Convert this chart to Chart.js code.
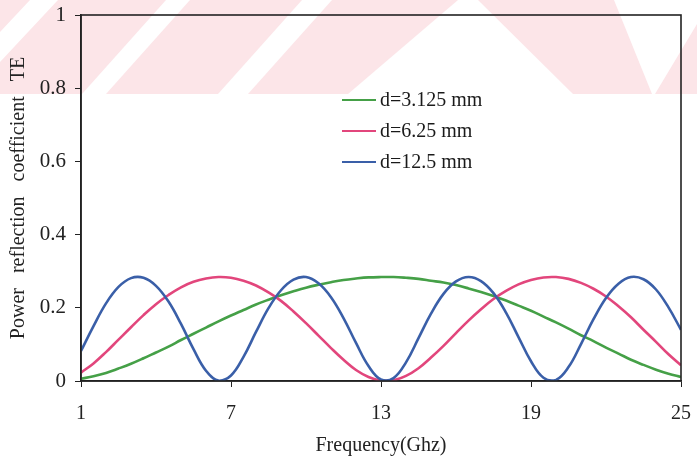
<!DOCTYPE html>
<html>
<head>
<meta charset="utf-8">
<script src="https://cdn.jsdelivr.net/npm/chart.js@4.4.1/dist/chart.umd.min.js"></script>
<style>
  html, body { margin: 0; padding: 0; background: #fff; }
  #wrap { width: 697px; height: 464px; }
</style>
</head>
<body>
<div id="wrap"><canvas id="c" width="697" height="464"></canvas></div>
<script>
// frequency samples (GHz), every 0.5 GHz
const freqs = [1, 1.5, 2, 2.5, 3, 3.5, 4, 4.5, 5, 5.5, 6, 6.5, 7, 7.5, 8, 8.5, 9, 9.5, 10, 10.5,
  11, 11.5, 12, 12.5, 13, 13.5, 14, 14.5, 15, 15.5, 16, 16.5, 17, 17.5, 18, 18.5, 19, 19.5, 20, 20.5,
  21, 21.5, 22, 22.5, 23, 23.5, 24, 24.5, 25];

const seriesNames = ['d=3.125 mm', 'd=6.25 mm', 'd=12.5 mm'];

const rGreen = [0.006, 0.013, 0.022, 0.034, 0.047, 0.062, 0.078, 0.094, 0.112, 0.129, 0.146, 0.163, 0.179, 0.194,
  0.209, 0.222, 0.234, 0.245, 0.255, 0.263, 0.270, 0.276, 0.280, 0.283, 0.284, 0.284, 0.282, 0.279, 0.274, 0.269,
  0.262, 0.253, 0.243, 0.232, 0.220, 0.206, 0.192, 0.176, 0.160, 0.143, 0.125, 0.109, 0.091, 0.075, 0.058, 0.044,
  0.031, 0.020, 0.011];

const rPink = [0.023, 0.048, 0.079, 0.113, 0.147, 0.180, 0.210, 0.235, 0.256, 0.271, 0.280, 0.284, 0.282, 0.274,
  0.261, 0.242, 0.219, 0.190, 0.158, 0.124, 0.090, 0.058, 0.030, 0.011, 0.001, 0.002, 0.014, 0.035, 0.064, 0.096,
  0.131, 0.165, 0.196, 0.224, 0.246, 0.264, 0.276, 0.283, 0.284, 0.279, 0.268, 0.252, 0.231, 0.204, 0.174, 0.140,
  0.107, 0.073, 0.043];

const rBlue = [0.082, 0.150, 0.212, 0.257, 0.281, 0.282, 0.260, 0.217, 0.156, 0.087, 0.028, 0.001, 0.015, 0.066,
  0.134, 0.199, 0.248, 0.277, 0.284, 0.267, 0.229, 0.172, 0.104, 0.041, 0.004, 0.008, 0.051, 0.117, 0.184, 0.238,
  0.272, 0.284, 0.273, 0.240, 0.187, 0.120, 0.054, 0.009, 0.003, 0.038, 0.101, 0.169, 0.227, 0.266, 0.284, 0.278,
  0.250, 0.201, 0.140];

const xTicks = [1, 7, 13, 19, 25];
const yTicks = [0, 0.2, 0.4, 0.6, 0.8, 1];
const yTickLabels = ['0', '0.2', '0.4', '0.6', '0.8', '1'];

const colors = ['#45a047', '#e2467c', '#3a5fa8'];
const serif = "'Liberation Serif', 'Times New Roman', serif";

function pts(ys) {
  return ys.map((y, i) => ({ x: freqs[i], y: y }));
}

function noScalePad(s) {
  s.paddingTop = 0; s.paddingBottom = 0; s.paddingLeft = 0; s.paddingRight = 0;
}

// faint watermark band across the top of the scan
const watermark = {
  id: 'watermark',
  beforeDraw(chart) {
    const ctx = chart.ctx;
    ctx.save();
    ctx.fillStyle = '#fce5e8';
    ctx.fillRect(0, 0, 697, 94);
    ctx.fillStyle = '#fff';
    const polys = [
      [[30, 0], [58, 0], [-30, 94], [-58, 94]],
      [[166, 0], [190, 0], [106, 94], [82, 94]],
      [[302, 0], [332, 0], [248, 94], [218, 94]],
      [[458, 0], [478, 0], [573, 94], [348, 94]],
      [[614, 0], [697, 0], [697, 24], [655, 94], [652, 94]]
    ];
    polys.forEach((p) => {
      ctx.beginPath();
      ctx.moveTo(p[0][0], p[0][1]);
      for (let i = 1; i < p.length; i++) ctx.lineTo(p[i][0], p[i][1]);
      ctx.closePath();
      ctx.fill();
    });
    ctx.restore();
  }
};

// top/right frame and the in-plot legend
const frame = {
  id: 'frame',
  afterDatasetsDraw(chart) {
    const a = chart.chartArea;
    const ctx = chart.ctx;
    ctx.save();
    ctx.strokeStyle = '#222';
    ctx.lineWidth = 1.6;
    ctx.strokeRect(a.left, a.top, a.right - a.left, a.bottom - a.top);

    ctx.font = '20px ' + serif;
    ctx.textBaseline = 'middle';
    ctx.fillStyle = '#1a1a1a';
    chart.data.datasets.forEach((ds, i) => {
      const y = 100 + i * 31;
      ctx.strokeStyle = ds.borderColor;
      ctx.lineWidth = 2;
      ctx.beginPath();
      ctx.moveTo(342, y);
      ctx.lineTo(376, y);
      ctx.stroke();
      ctx.fillText(ds.label, 380, y + 1);
    });
    ctx.restore();
  }
};

new Chart(document.getElementById('c'), {
  type: 'line',
  data: {
    datasets: [
      { label: seriesNames[0], data: pts(rGreen), borderColor: colors[0], order: 3 },
      { label: seriesNames[1], data: pts(rPink), borderColor: colors[1], order: 2 },
      { label: seriesNames[2], data: pts(rBlue), borderColor: colors[2], order: 1 }
    ]
  },
  options: {
    responsive: false,
    animation: false,
    events: [],
    layout: { padding: { left: 0, top: 15, right: 16, bottom: 0 } },
    elements: {
      point: { radius: 0 },
      line: { borderWidth: 2.6, tension: 0.4, fill: false }
    },
    plugins: { legend: { display: false }, tooltip: { enabled: false } },
    scales: {
      x: {
        type: 'linear',
        min: 1,
        max: 25,
        afterBuildTicks: (s) => { s.ticks = xTicks.map((v) => ({ value: v })); },
        afterFit: (s) => { s.height = 83; noScalePad(s); },
        border: { display: true, color: '#222', width: 1.6 },
        grid: { drawOnChartArea: false, drawTicks: true, tickLength: 6, color: '#222' },
        ticks: { color: '#222', padding: 15, maxRotation: 0, font: { family: serif, size: 20 } },
        title: {
          display: true,
          text: 'Frequency(Ghz)',
          color: '#222',
          padding: { top: 0, bottom: 6 },
          font: { family: serif, size: 20 }
        }
      },
      y: {
        min: 0,
        max: 1,
        afterBuildTicks: (s) => { s.ticks = yTicks.map((v) => ({ value: v })); },
        afterFit: (s) => { s.width = 81; noScalePad(s); },
        border: { display: true, color: '#222', width: 1.6 },
        grid: { drawOnChartArea: false, drawTicks: true, tickLength: 6, color: '#222' },
        ticks: {
          color: '#222',
          padding: 9,
          font: { family: serif, size: 21 },
          callback: (v) => yTickLabels[yTicks.indexOf(v)]
        },
        title: {
          display: true,
          text: 'Power   reflection   coefficient   TE',
          color: '#222',
          padding: { top: 7, bottom: 0 },
          font: { family: serif, size: 20 }
        }
      }
    }
  },
  plugins: [watermark, frame]
});
</script>
</body>
</html>
